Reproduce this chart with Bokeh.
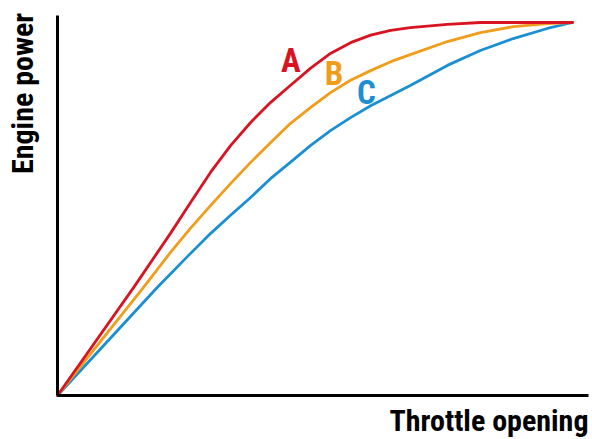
from bokeh.plotting import figure
from bokeh.models import Range1d, Label, FixedTicker
from bokeh.embed import file_html
from bokeh.resources import INLINE
import math

# Throttle opening (%) vs engine power (% of max)
throttle_a = [0, 14.8, 21.9, 25.8, 29.7, 33.6, 37.5, 41.4, 45.2, 49.1, 53.0, 56.9, 60.8, 64.7, 68.5, 75.7, 82.1, 88.5, 95.1, 100]
power_a = [0, 29.0, 43.4, 51.7, 59.8, 67.0, 73.2, 78.6, 83.1, 87.7, 91.7, 94.6, 96.6, 97.9, 98.6, 99.5, 100, 100, 100, 100]

throttle_b = [0, 16.7, 21.9, 25.8, 29.7, 33.6, 37.5, 41.4, 45.2, 49.1, 53.0, 56.9, 60.8, 64.7, 68.5, 75.7, 82.1, 88.5, 95.1, 100]
power_b = [0, 29.0, 38.3, 44.8, 50.9, 56.8, 62.5, 67.8, 72.9, 77.2, 81.2, 84.5, 87.1, 89.5, 91.4, 94.9, 97.3, 98.9, 99.7, 100]

throttle_c = [0, 19.4, 25.4, 29.7, 33.6, 37.5, 41.4, 45.2, 49.1, 53.0, 56.9, 60.8, 64.7, 68.5, 75.7, 82.1, 88.5, 95.1, 100]
power_c = [0, 29.0, 37.5, 43.4, 48.3, 53.1, 58.2, 62.5, 67.0, 71.0, 74.5, 77.7, 80.4, 83.1, 88.5, 92.5, 95.7, 98.4, 100]

series_names = ["A", "B", "C"]
series_colors = ["#d81422", "#f09d1c", "#1c8fd3"]
label_x = [45.3, 53.7, 60.0]
label_y = [89.8, 86.2, 81.2]

x_title = "Throttle opening"
y_title = "Engine power"

FONT = "'Roboto Condensed', 'DejaVu Sans Condensed', Roboto, sans-serif"

p = figure(width=592, height=439, output_backend="svg", toolbar_location=None,
           x_range=Range1d(-11.07, 103.88), y_range=Range1d(-11.8, 105.9),
           min_border=0)
p.background_fill_color = "white"
p.border_fill_color = "white"
p.outline_line_color = None
p.grid.visible = False
p.xaxis.bounds = (0, 103.1)
p.yaxis.bounds = (0, 101.9)
for ax in (p.xaxis, p.yaxis):
    ax.fixed_location = 0
    ax.ticker = FixedTicker(ticks=[])
    ax.major_tick_line_color = None
    ax.minor_tick_line_color = None
    ax.major_tick_out = 0
    ax.major_tick_in = 0
    ax.minor_tick_out = 0
    ax.major_label_standoff = 0
    ax.axis_line_color = "black"
    ax.axis_line_width = 3
    ax.major_label_text_font_size = "0px"

data = [(throttle_c, power_c, series_colors[2]),
        (throttle_b, power_b, series_colors[1]),
        (throttle_a, power_a, series_colors[0])]
for xs, ys, col in data:
    p.line(xs, ys, line_color=col, line_width=2.8, line_join="round", line_cap="round")

for name, col, lx, ly in zip(series_names, series_colors, label_x, label_y):
    p.add_layout(Label(x=lx, y=ly, text=name, text_color=col, text_font=FONT,
                       text_font_style="bold", text_font_size="33px",
                       text_align="center", text_baseline="middle"))

p.add_layout(Label(x=103.1, y=-6.7, text=x_title, text_color="black", text_font=FONT,
                   text_font_style="bold", text_font_size="30px",
                   text_align="right", text_baseline="middle"))
p.add_layout(Label(x=-6.8, y=81.0, text=y_title, text_color="black", text_font=FONT,
                   text_font_style="bold", text_font_size="30px", angle=math.pi / 2,
                   text_align="center", text_baseline="middle"))

open("out.html", "w").write(file_html(p, INLINE))
